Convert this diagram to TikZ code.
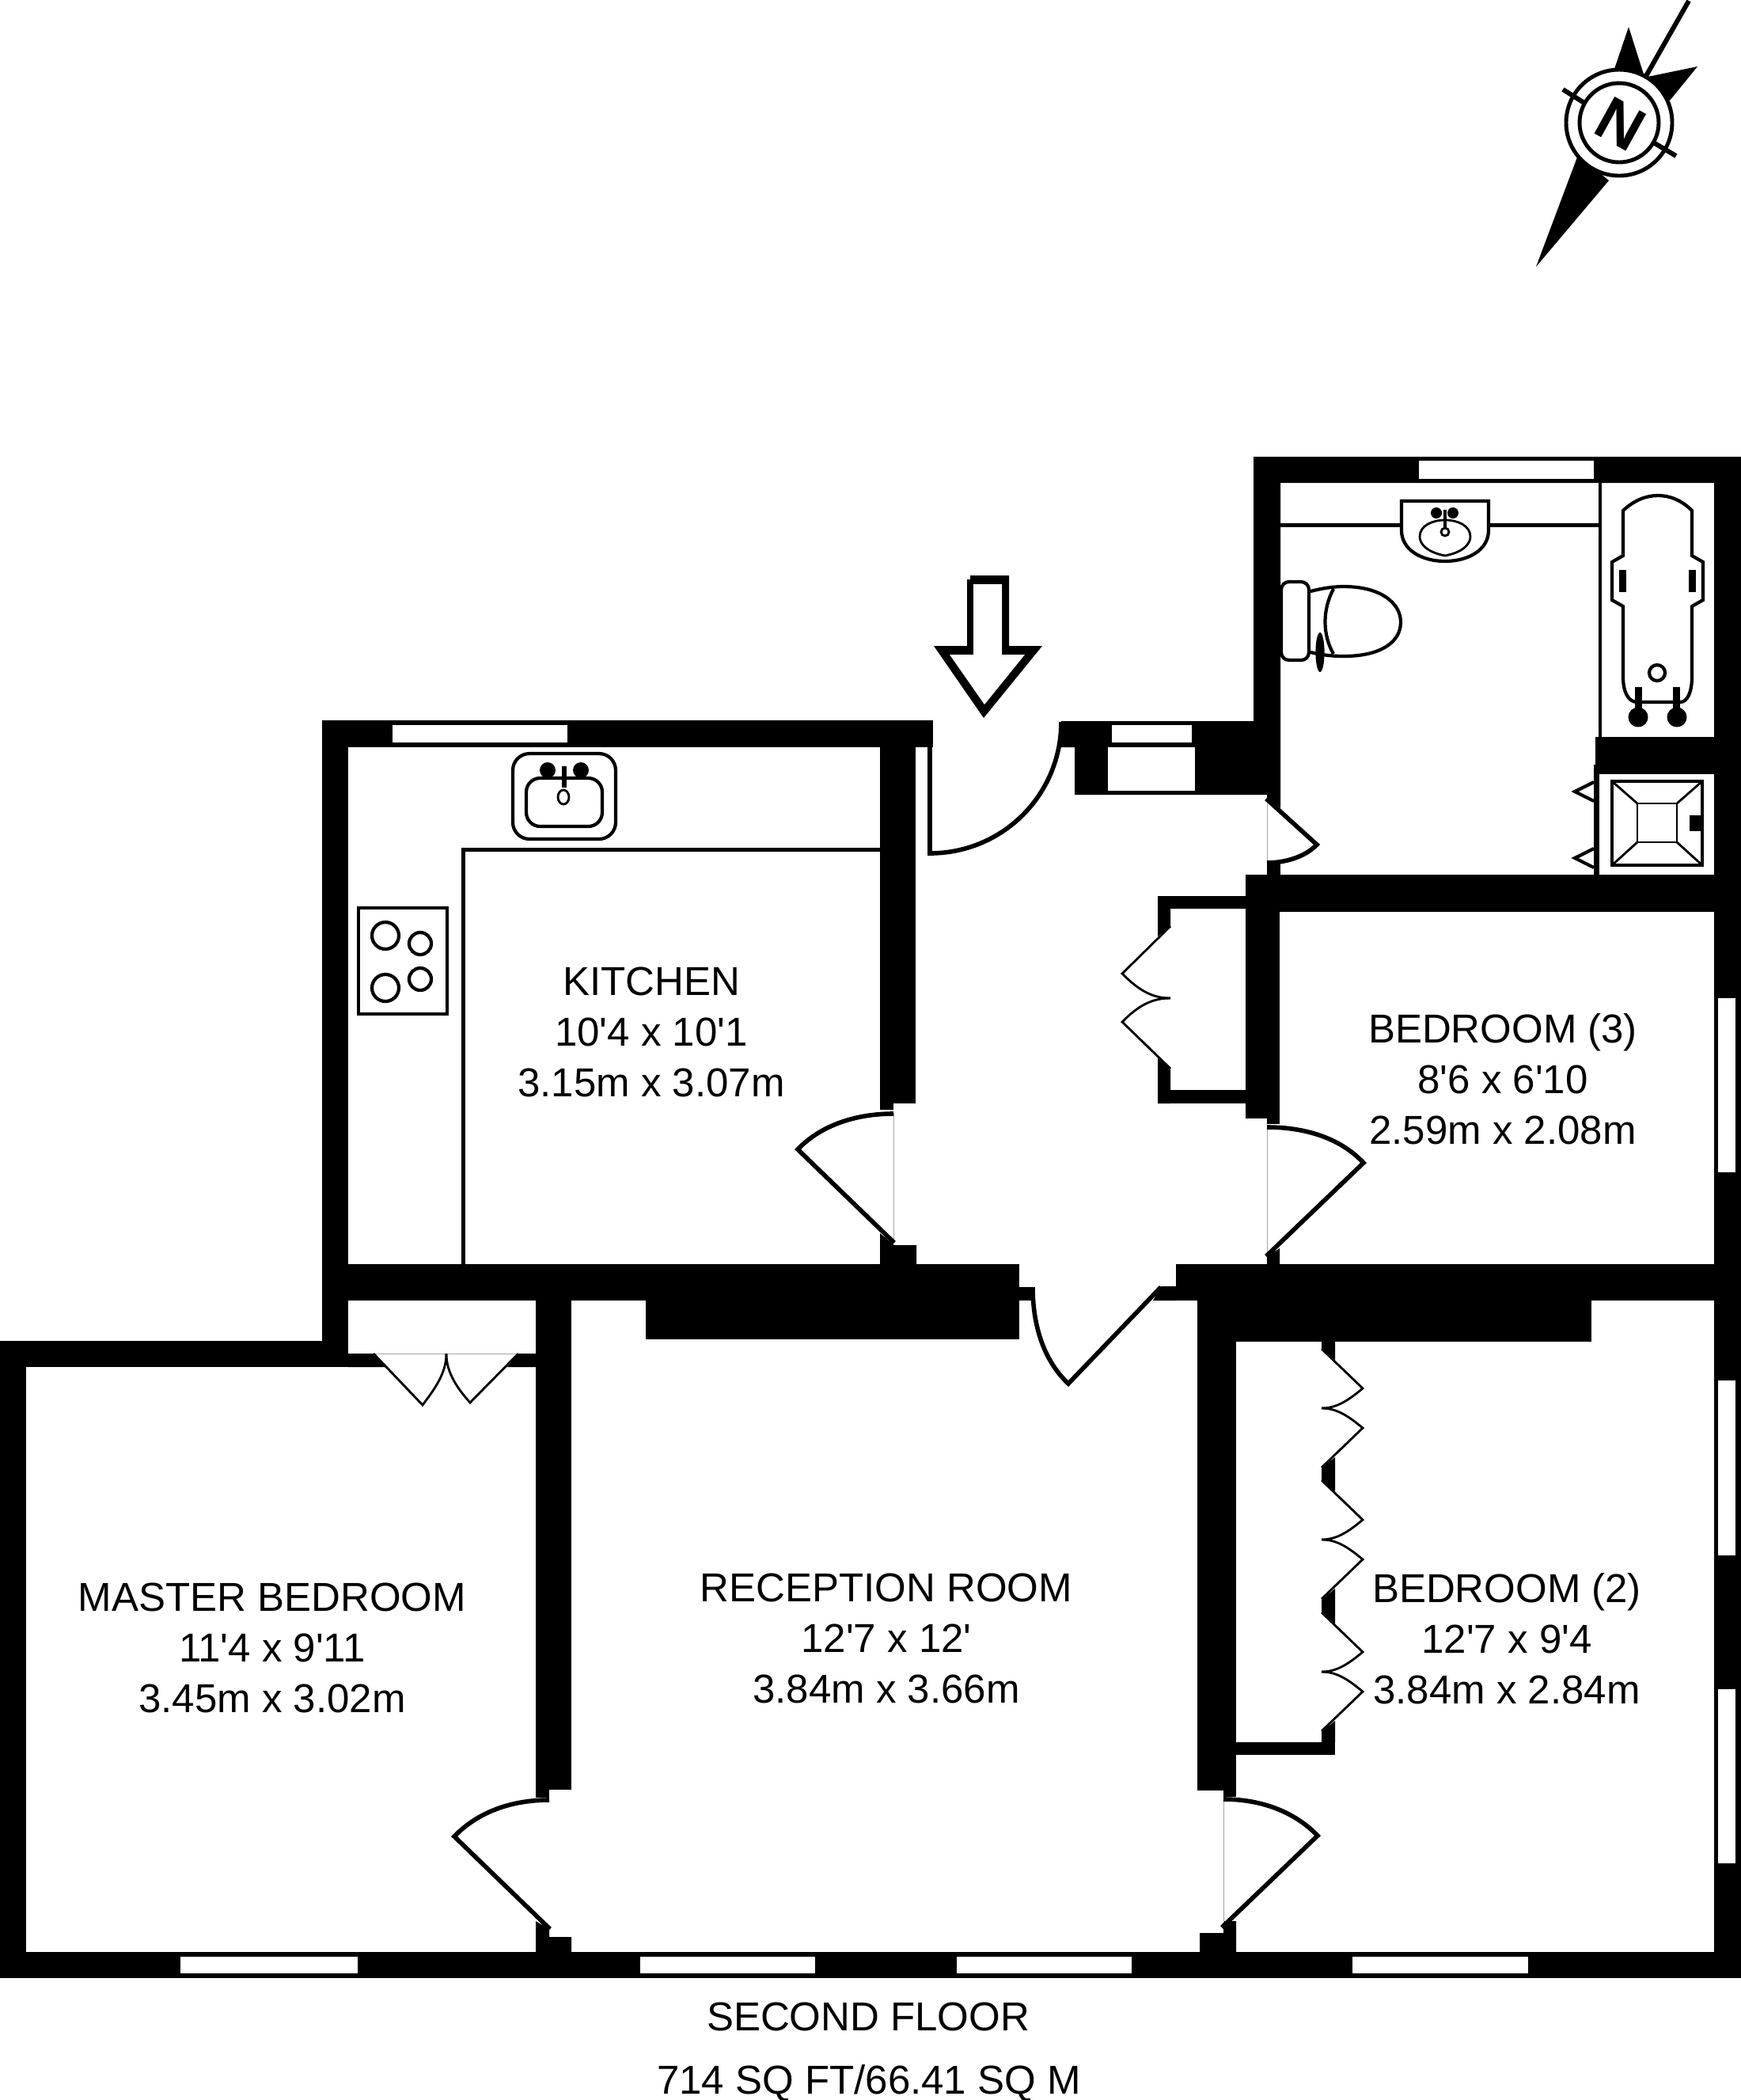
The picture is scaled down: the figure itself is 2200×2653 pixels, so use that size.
\documentclass[tikz,border=0pt]{standalone}
\usepackage{fontspec}
\setmainfont{Liberation Sans}[Ligatures=TeXOff]

\begin{document}
\begin{tikzpicture}[x=0.01cm,y=-0.01cm]
    \tikzset{wall/.style={fill=black}}
    \tikzset{glass/.style={fill=white}}
    \tikzset{leaf/.style={draw,line width=1.6pt,miter limit=10}}
    \tikzset{thinleaf/.style={draw,line width=0.8pt,miter limit=10}}
    \tikzset{hair/.style={draw=black!35,line width=0.25pt}}
    \tikzset{fixture/.style={draw,line width=1.2pt,fill=white}}
    \tikzset{fine/.style={draw,line width=0.8pt}}
    \tikzset{room/.style={align=center,font=\fontsize{14.5}{18.2}\selectfont}}
    \tikzset{caption/.style={anchor=base,font=\fontsize{14.5}{18.2}\selectfont}}

    \useasboundingbox (0,0) rectangle (2200,2653);

    % walls
    \fill[wall] (0,1694) rectangle (440,1727);
    \fill[wall] (0,1694) rectangle (33,2499);
    \fill[wall] (0,2466) rectangle (2200,2499);
    \fill[wall] (407,910) rectangle (440,1727);
    \fill[wall] (407,910) rectangle (1179,944);
    \fill[wall] (1112,910) rectangle (1157,1394);
    \fill[wall] (1112,1394) rectangle (1129,1402);
    \fill[wall] (1112,1558) -- (1129,1572) -- (1129,1573) -- (1158,1573) -- (1158,1597) -- (1112,1597) -- cycle;
    \fill[wall] (407,1597) rectangle (1288,1643);
    \fill[wall] (816,1597) rectangle (1288,1692);
    \fill[wall] (1288,1626) rectangle (1305,1643);
    \fill[wall] (677,1643) rectangle (722,2261);
    \fill[wall] (677,2261) rectangle (694,2271);
    \fill[wall] (677,2427) -- (694,2437) -- (694,2447) -- (722,2447) -- (722,2466) -- (677,2466) -- cycle;
    \fill[wall] (440,1710) -- (472,1710) -- (487,1727) -- (440,1727) -- cycle;
    \fill[wall] (677,1710) -- (655,1710) -- (641,1727) -- (677,1727) -- cycle;
    % entrance and bathroom
    \fill[wall] (1341,911) -- (1584,911) -- (1584,577) -- (2200,577) -- (2200,610) -- (1618,610) -- (1618,1021) -- (1601,1009) -- (1601,1004) -- (1358,1004) -- (1358,944) -- (1341,944) -- cycle;
    \fill[wall] (2166,577) rectangle (2200,2499);
    \fill[wall] (2020,610) rectangle (2024,931);
    \fill[wall] (2016,931) rectangle (2200,978);
    \fill[wall] (2014,966) rectangle (2021,1105);
    \fill[wall] (1601,1090) rectangle (1618,1105);
    \fill[wall] (1574,1105) rectangle (2200,1152);
    \fill[wall] (1574,1105) rectangle (1601,1413);
    \fill[wall] (1601,1105) rectangle (1617,1420);
    \fill[wall] (1463,1132) rectangle (1574,1148);
    \fill[wall] (1463,1377) rectangle (1574,1394);
    \fill[wall] (1463,1132) -- (1479,1132) -- (1479,1170) -- (1463,1183) -- cycle;
    \fill[wall] (1463,1394) -- (1479,1394) -- (1479,1350) -- (1463,1337) -- cycle;
    \fill[wall] (1601,1587) -- (1617,1577) -- (1617,1597) -- (1601,1597) -- cycle;
    \fill[wall] (1486,1597) rectangle (2200,1643);
    \fill[wall] (1467,1625) -- (1486,1625) -- (1486,1643) -- (1457,1643) -- cycle;
    \fill[wall] (1513,1643) rectangle (2011,1695);
    \fill[wall] (1513,1643) rectangle (1562,2262);
    \fill[wall] (1546,2262) rectangle (1562,2270);
    \fill[wall] (1562,2201) rectangle (1687,2217);
    \fill[wall] (1546,2427) -- (1562,2427) -- (1562,2466) -- (1516,2466) -- (1516,2442) -- (1546,2442) -- cycle;
    % stubs between the wardrobe doors
    \fill[wall] (1670,1695) -- (1687,1695) -- (1687,1718) -- (1670,1704) -- cycle;
    \fill[wall] (1670,1854) -- (1687,1841) -- (1687,1884) -- (1670,1870) -- cycle;
    \fill[wall] (1670,2021) -- (1687,2007) -- (1687,2051) -- (1670,2037) -- cycle;
    \fill[wall] (1670,2188) -- (1687,2174) -- (1687,2201) -- (1670,2201) -- cycle;

    % windows
    \foreach \xa/\ya/\xb/\yb in {496/916/717/938,1793/582/2014/605,1405/916/1506/938,2171/1261/2193/1481,2171/1744/2193/1965,2171/2134/2193/2354,228/2472/452/2493,809/2472/1030/2493,1209/2472/1430/2493,1709/2472/1931/2493} {
        \fill[glass] (\xa,\ya) rectangle (\xb,\yb);
    }
    \fill[glass] (1400,944) rectangle (1510,999);

    % door openings
    \draw[hair] (1129,1406) -- (1129,1570);
    \draw[hair] (1601,1424) -- (1601,1587);
    \draw[hair] (1601,1009) -- (1601,1090);
    \draw[hair] (1546,2273) -- (1546,2436);
    \draw[hair] (472,1710) -- (655,1710);

    % doors
    \draw[leaf] (1175,940) -- (1175,1078) .. controls (1267,1078) and (1341,1004) .. (1341,912);
    \draw[leaf] (1601,1090) .. controls (1623,1090) and (1649,1083) .. (1664,1067) -- (1600,1009);
    \draw[leaf] (1129,1407) .. controls (1084,1407) and (1039,1420) .. (1008,1452) -- (1130,1570);
    \draw[leaf] (1601,1424) .. controls (1646,1424) and (1692,1436) .. (1723,1469) -- (1600,1587);
    \draw[leaf] (1305,1626) .. controls (1305,1671) and (1317,1717) .. (1350,1748) -- (1467,1626);
    \draw[leaf] (694,2274) .. controls (648,2274) and (605,2288) .. (574,2320) -- (695,2437);
    \draw[leaf] (1546,2273) .. controls (1591,2273) and (1634,2287) .. (1665,2319) -- (1544,2435);
    % double and folding doors
    \draw[thinleaf] (472,1710) -- (534,1775) .. controls (549,1755) and (564,1735) .. (564,1710);
    \draw[thinleaf] (655,1710) -- (594,1772) .. controls (579,1755) and (564,1735) .. (564,1710);
    \draw[thinleaf] (1479,1170) -- (1418,1230) .. controls (1438,1250) and (1455,1261) .. (1479,1261);
    \draw[thinleaf] (1479,1350) -- (1418,1291) .. controls (1438,1271) and (1455,1261) .. (1479,1261);
    \foreach \i in {1704,1870,2037} {
        \draw[thinleaf] (1670,\i) -- (1722,\i+50) .. controls (1705,\i+64) and (1690,\i+75) .. (1670,\i+75);
        \draw[thinleaf] (1670,\i+150) -- (1722,\i+100) .. controls (1705,\i+86) and (1690,\i+75) .. (1670,\i+75);
    }

    % kitchen units
    \fill[wall] (583,1071) rectangle (1112,1076);
    \fill[wall] (583,1071) rectangle (588,1597);
    \draw[fixture,rounded corners=6pt] (648,952) rectangle (778,1060);
    \fill[wall] (692,973) ellipse [x radius=10,y radius=10];
    \fill[wall] (734,973) ellipse [x radius=10,y radius=10];
    \draw[fixture,rounded corners=5pt] (665,983) rectangle (761,1044);
    \fill[wall] (710,968) rectangle (716,995);
    \draw[fine,fill=white] (712,1007) ellipse [x radius=7,y radius=9];
    \draw[fixture] (453,1147) rectangle (565,1281);
    \draw[fixture] (487,1182) circle [radius=17];
    \draw[fixture] (531,1192) circle [radius=14];
    \draw[fixture] (487,1248) circle [radius=17];
    \draw[fixture] (531,1237) circle [radius=14];

    % bathroom fittings
    \fill[wall] (1618,661) rectangle (2020,666);
    \draw[fixture] (1771,633) -- (1881,633) -- (1881,670) .. controls (1881,695) and (1855,709) .. (1826,709) .. controls (1797,709) and (1771,695) .. (1771,670) -- cycle;
    \draw[fine] (1826,702) .. controls (1800,697) and (1794,685) .. (1794,678) .. controls (1794,664) and (1810,657) .. (1826,657) .. controls (1842,657) and (1858,664) .. (1858,678) .. controls (1858,685) and (1852,697) .. (1826,702) -- cycle;
    \fill[wall] (1815,648) circle [radius=7];
    \fill[wall] (1836,648) circle [radius=7];
    \fill[wall] (1824,644) rectangle (1828,667);
    \draw[fine,fill=white] (1826,672) circle [radius=5];

    \draw[fixture] (1656,747) .. controls (1668,744) and (1682,741) .. (1698,741) .. controls (1745,741) and (1770,762) .. (1770,786) .. controls (1770,811) and (1745,829) .. (1698,829) .. controls (1682,829) and (1668,827) .. (1656,824);
    \draw[fixture,fill=none] (1685,744) .. controls (1671,770) and (1671,802) .. (1685,826);
    \fill[wall] (1668,824) ellipse [x radius=5.6,y radius=25];
    \draw[fixture,rounded corners=2.8pt] (1619,735) rectangle (1654,834);

    \draw[fixture] (2051,645) .. controls (2065,632) and (2080,626) .. (2095,626) .. controls (2110,626) and (2125,632) .. (2138,645) -- (2138,702) -- (2152,710) -- (2152,758) -- (2138,766) -- (2138,855) .. controls (2138,875) and (2132,887) .. (2123,887) -- (2069,887) .. controls (2058,887) and (2051,875) .. (2051,855) -- (2051,766) -- (2037,758) -- (2037,710) -- (2051,702) -- cycle;
    \fill[wall] (2046,720) rectangle (2055,748);
    \fill[wall] (2134,720) rectangle (2143,748);
    \draw[fixture] (2094,850) circle [radius=10];
    \fill[wall] (2066,868) rectangle (2075,895);
    \fill[wall] (2114,868) rectangle (2123,895);
    \fill[wall] (2070,906) circle [radius=12.5];
    \fill[wall] (2119,906) circle [radius=12.5];

    \draw[fixture] (2037,987) rectangle (2151,1093);
    \draw[fine] (2069,1015) rectangle (2119,1064);
    \draw[fine] (2037,987) -- (2069,1015);
    \draw[fine] (2151,987) -- (2119,1015);
    \draw[fine] (2037,1093) -- (2069,1064);
    \draw[fine] (2151,1093) -- (2119,1064);
    \fill[wall] (2135,1030) rectangle (2150,1050);
    \draw[fixture,fill=none] (2014,988) -- (1990,1000) -- (2014,1012);
    \draw[fixture,fill=none] (2014,1072) -- (1990,1084) -- (2014,1096);

    % entry arrow
    \fill[wall] (1226,727) -- (1275,727) -- (1275,816) -- (1317,816) -- (1243,907) -- (1180,816) -- (1222,816) -- (1222,732) -- (1226,732) -- cycle;
    \fill[glass] (1230,738) -- (1266,738) -- (1266,827) -- (1295,827) -- (1244,890) -- (1200,827) -- (1230,827) -- cycle;

    % compass
    \fill[wall] (2058,34) -- (2039,90) -- (2078,97) -- cycle;
    \fill[wall] (2145,84) -- (2082,97) -- (2110,127) -- cycle;
    \fill[wall] (1941,337) -- (1994,196) -- (2033,228) -- cycle;
    \draw[wall,draw=black,line width=1.7pt] (2080,96) -- (2134,1);
    \draw[draw=black,line width=1.4pt,fill=white] (2046,155) circle [radius=67];
    \draw[draw=black,line width=1.4pt,fill=white] (2046,155) circle [radius=50];
    \draw[draw=black,line width=1.7pt] (1975,113) -- (2002,130);
    \draw[draw=black,line width=1.7pt] (2091,181) -- (2118,197);
    \node[rotate=-29,inner sep=0pt,font=\fontsize{22}{22}\selectfont\bfseries] (north) at (2048,157) {N};

    % labels
    \node[room] (kitchen) at (823,1304) {KITCHEN\\10'4 x 10'1\\3.15m x 3.07m};
    \node[room] (bedthree) at (1899,1363) {BEDROOM (3)\\8'6 x 6'10\\2.59m x 2.08m};
    \node[room] (master) at (344,2082) {MASTER BEDROOM\\11'4 x 9'11\\3.45m x 3.02m};
    \node[room] (reception) at (1120,2070) {RECEPTION ROOM\\12'7 x 12'\\3.84m x 3.66m};
    \node[room] (bedtwo) at (1904,2070) {BEDROOM (2)\\12'7 x 9'4\\3.84m x 2.84m};
    \node[caption] (floorname) at (1097,2565) {SECOND FLOOR};
    \node[caption] (floorarea) at (1098,2645) {714 SQ FT/66.41 SQ M};
\end{tikzpicture}
\end{document}
